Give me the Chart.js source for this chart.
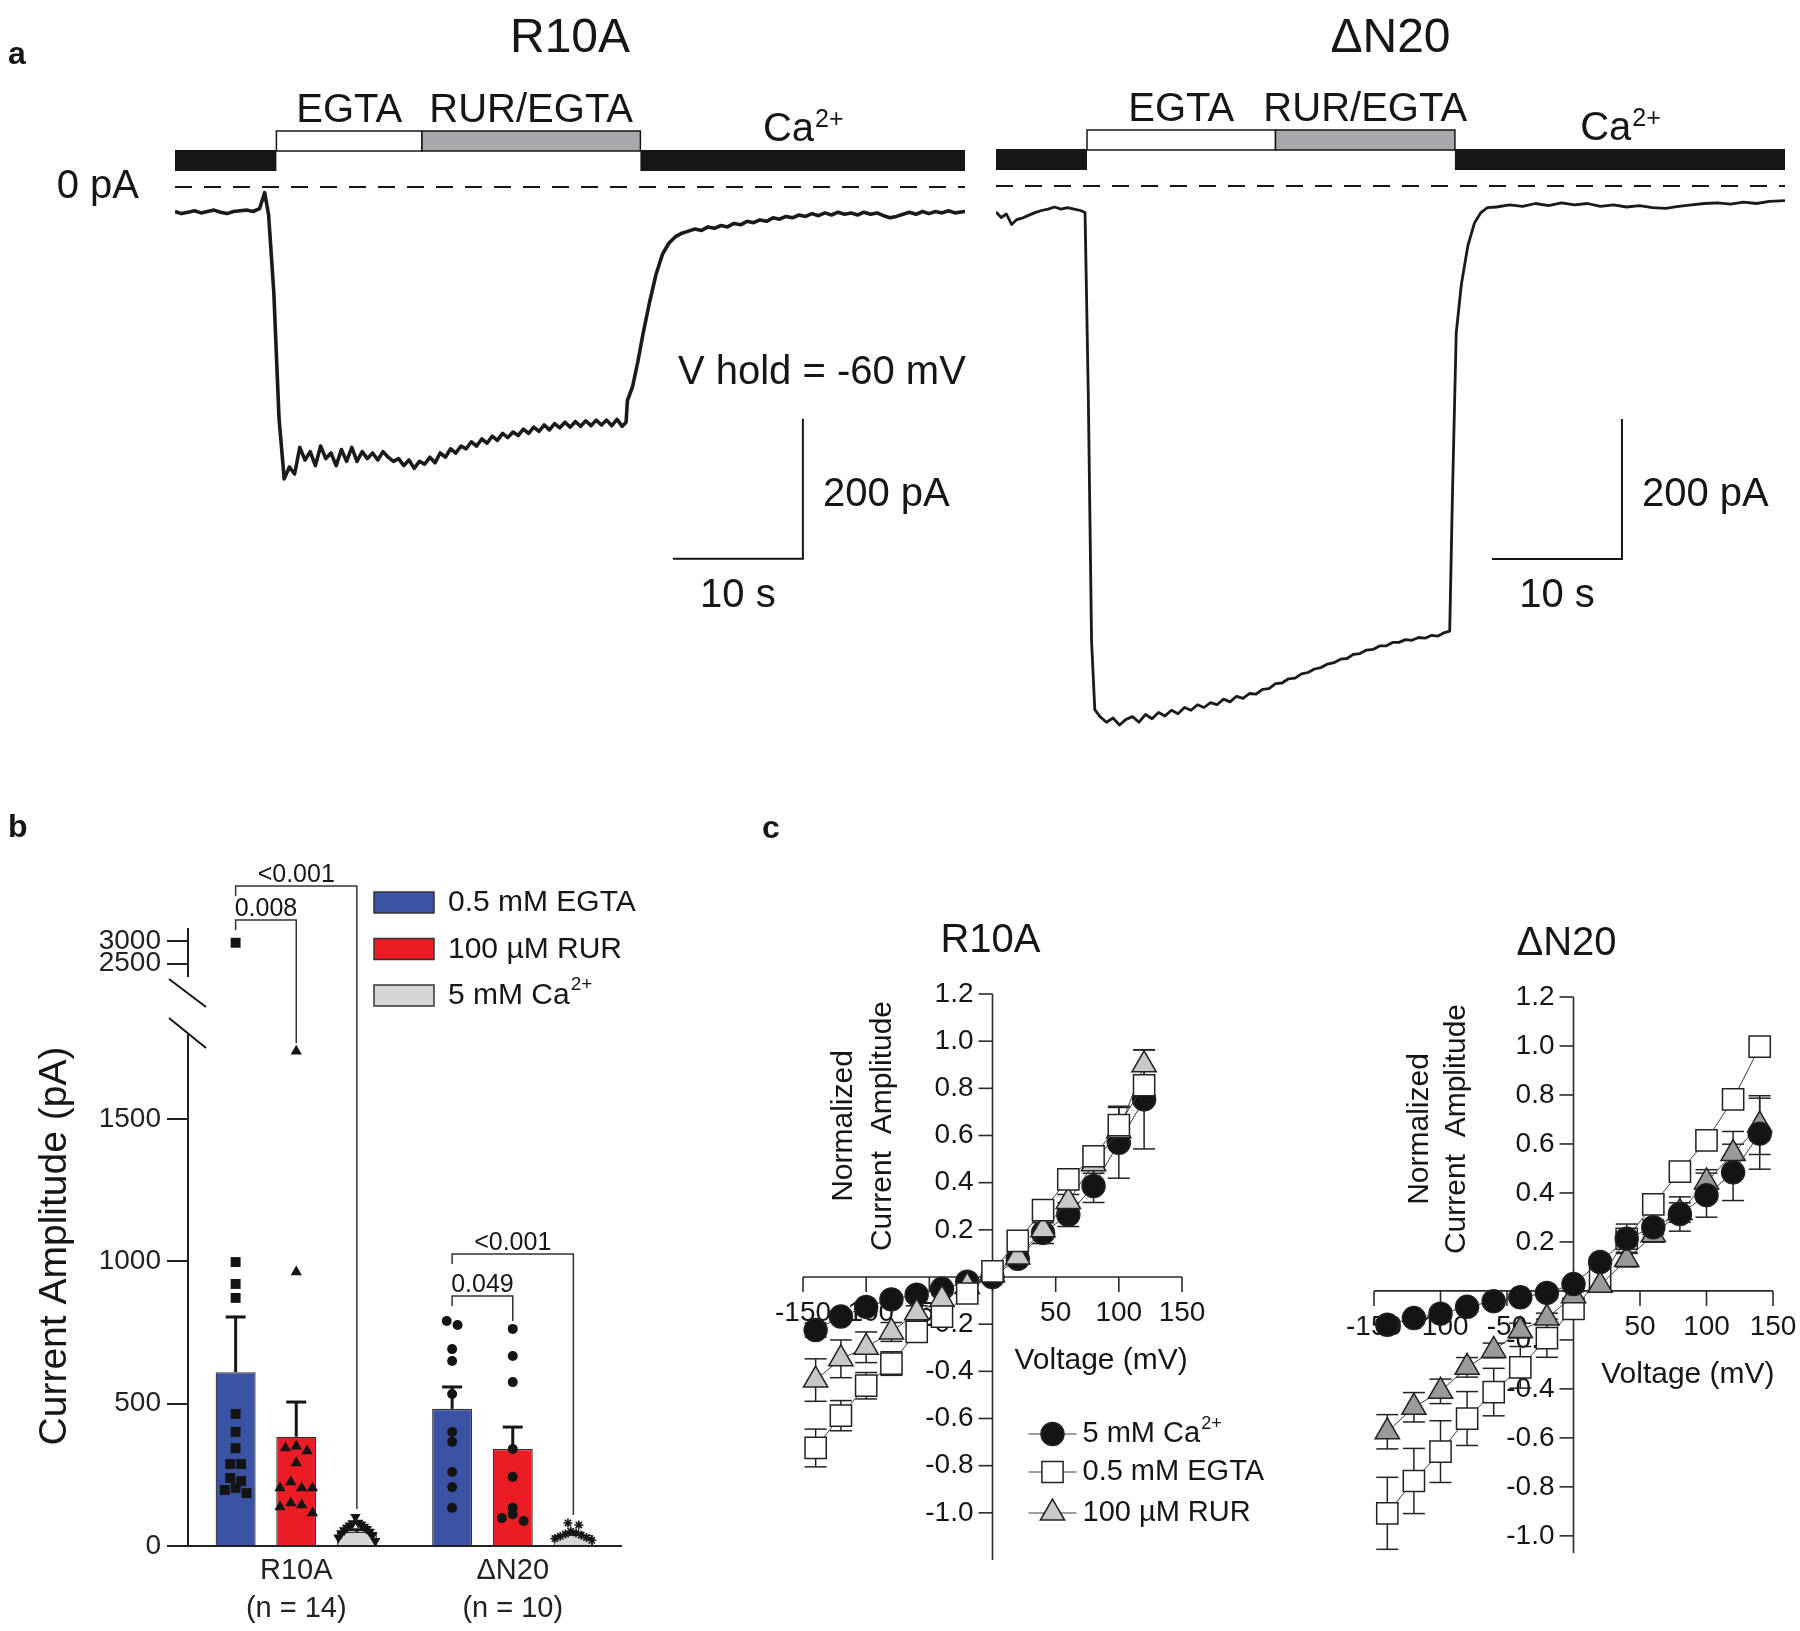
<!DOCTYPE html>
<html>
<head>
<meta charset="utf-8">
<title>R10A / ΔN20 currents</title>
<script src="https://cdn.jsdelivr.net/npm/chart.js@4.4.1/dist/chart.umd.min.js"></script>
<style>
  html, body { margin: 0; background: #fff; }
  #fig { position: relative; width: 1800px; height: 1631px; background: #fff; overflow: hidden; }
  .panel { position: absolute; }
</style>
</head>
<body>
<div id="fig">
  <div class="panel" style="left:0;top:0;width:980px;height:690px"><canvas id="traceR10A"></canvas></div>
  <div class="panel" style="left:980px;top:0;width:820px;height:760px"><canvas id="traceN20"></canvas></div>
  <div class="panel" style="left:0;top:780px;width:660px;height:851px"><canvas id="ampLow"></canvas></div>
  <div class="panel" style="left:0;top:900px;width:660px;height:100px"><canvas id="ampHigh"></canvas></div>
  <div class="panel" style="left:760px;top:790px;width:560px;height:841px"><canvas id="ivR10A"></canvas></div>
  <div class="panel" style="left:1320px;top:790px;width:480px;height:841px"><canvas id="ivN20"></canvas></div>
</div>
<script>
// ---- panel a: whole-cell current traces (time in s, current in pA) ----
const r10aTime = [
  0, 0.5, 1, 1.5, 2, 2.5, 3, 3.5, 4, 4.5, 5, 5.5, 6, 6.5,
  6.9, 7.2, 7.6, 8,
  8.4, 8.8, 9.2, 9.6, 10, 10.4, 10.8, 11.2, 11.6, 12, 12.4, 12.8, 13.2, 13.6, 14, 14.4, 14.8, 15.2, 15.6, 16, 16.4, 16.8,
  17.2, 17.6, 18, 18.4, 18.8, 19.2, 19.6, 20, 20.4, 20.8, 21.2, 21.6, 22, 22.4, 22.8, 23.2, 23.6, 24, 24.4, 24.8, 25.2, 25.6,
  26, 26.4, 26.8, 27.2, 27.6, 28, 28.4, 28.8, 29.2, 29.6, 30, 30.4, 30.8, 31.2, 31.6, 32, 32.4, 32.8, 33.2, 33.6, 34, 34.4,
  34.7, 34.8, 35.2, 35.6, 36,
  36.5, 37, 37.5, 38, 38.5, 39, 39.5, 40, 40.5, 41, 41.5, 42, 42.5, 43, 43.5, 44, 44.5, 45, 45.5, 46, 46.5, 47, 47.5, 48,
  48.5, 49, 49.5, 50, 50.5, 51, 51.5, 52, 52.5, 53, 53.5, 54, 54.5, 55, 55.5, 56, 56.5, 57, 57.5, 58, 58.5, 59, 59.5, 60,
  60.77
];
const r10aCurrent = [
  -35, -38, -36, -34, -37, -35, -33, -36, -38, -35, -34, -33, -35, -31,
  -8, -40, -150, -330,
  -417, -400, -410, -372, -390, -378, -398, -370, -388, -380, -398, -375, -392, -372, -392, -378, -388, -380, -390, -378, -386, -392,
  -388, -398, -390, -402, -392, -396, -386, -394, -380, -386, -374, -380, -370, -374, -364, -370, -360, -366, -356, -362, -352, -358,
  -350, -355, -346, -352, -343, -349, -340, -347, -338, -344, -336, -343, -335, -342, -334, -341, -333, -340, -333, -341, -332, -342,
  -336, -305, -285, -250, -210,
  -165, -125, -96, -80, -71, -66, -63, -60, -62, -57, -59, -55, -57, -52, -54, -49, -51, -47, -49, -44, -46, -42, -44, -40,
  -42, -38, -41, -37, -40, -36, -39, -37, -40, -36, -39, -37, -41, -44, -42, -39, -36, -39, -35, -38, -35, -37, -34, -37,
  -35
];
const n20Time = [
  0, 0.4, 0.8, 1.2, 1.6, 2, 2.5, 3, 3.5, 4, 4.5, 5, 5.5, 6, 6.5, 6.85,
  7.1, 7.35, 7.6,
  8, 8.5, 9, 9.5, 10, 10.5, 11, 11.5, 12, 12.5, 13, 13.5, 14, 14.5, 15, 15.5, 16, 16.5, 17, 17.5,
  18, 18.5, 19, 19.5, 20, 20.5, 21, 21.5, 22, 22.5, 23, 23.5, 24, 24.5, 25, 25.5, 26, 26.5, 27, 27.5,
  28, 28.5, 29, 29.5, 30, 30.5, 31, 31.5, 32, 32.5, 33, 33.5, 34, 34.5,
  34.9, 35.1, 35.4, 35.8, 36.3, 36.8, 37.3, 37.8,
  38.5, 39.5, 40.5, 41.5, 42.5, 43.5, 44.5, 45.5, 46.5, 47.5, 48.5, 49.5, 50.5, 51.5, 52.5, 53.5, 54.5, 55.5, 56.5, 57.5, 58.5, 59.5,
  60.69
];
const n20Current = [
  -37, -45, -40, -55, -48, -46, -42, -38, -35, -33, -30, -33, -31, -33, -35, -38,
  -300, -650, -748,
  -758, -766, -760, -770, -762, -758, -766, -755, -761, -752, -757, -749, -754, -745, -749, -741, -745, -738, -741, -733,
  -737, -729, -732, -725, -726, -719, -718, -711, -710, -704, -703, -697, -695, -690, -688, -683, -681, -676, -675, -669,
  -668, -663, -662, -657, -657, -652, -652, -648, -649, -645, -646, -642, -643, -638,
  -636, -450, -210, -140, -85, -53, -38, -31,
  -30, -27, -29, -25, -28, -24, -27, -25, -29, -27, -30, -28, -31, -32, -29, -27, -25, -24, -26, -23, -25, -22,
  -21
];
const solutionOrder = ['Ca', 'EGTA', 'RUR', 'Ca'];
const r10aSolEdges = [0, 7.8, 19.0, 35.8, 60.77];
const n20SolEdges = [0, 7.0, 21.5, 35.3, 60.69];

// ---- panel b: current amplitudes (pA) ----
const groupNames = ['R10A', 'ΔN20'];
const groupN = [14, 10];
const meanEGTA = [611, 482];
const semEGTA = [194, 77];
const meanRUR = [384, 341];
const semRUR = [122, 77];
const meanCa = [49, 39];
const semCa = [8, 6];
const ptsR10A_EGTA = [2960, 998, 921, 872, 464, 401, 344, 288, 288, 239, 228, 204, 197, 186];
const ptsR10A_RUR = [1739, 963, 351, 344, 334, 292, 225, 204, 204, 204, 151, 144, 137, 116];
const ptsR10A_Ca = [102, 82, 80, 76, 72, 68, 64, 60, 55, 50, 45, 38, 30, 18];
const ptsN20_EGTA = [791, 777, 692, 650, 534, 401, 366, 260, 207, 134];
const ptsN20_RUR = [763, 668, 576, 341, 243, 134, 112, 98, 88];
const ptsN20_Ca = [81, 74, 52, 46, 42, 38, 34, 30, 26, 20];
const ampTicksLow = [0, 500, 1000, 1500];
const ampTicksHigh = [2500, 3000];
const sigText = ['<0.001', '0.008', '<0.001', '0.049'];
const sigGroup = [0, 0, 1, 1];
const sigVs = [2, 1, 2, 1];
const sigLevel = [2320, 2200, 1026, 879];

// ---- panel c: normalized I-V relations ----
const ivVoltR10A = [-140, -120, -100, -80, -60, -40, -20, 0, 20, 40, 60, 80, 100, 120];
const ivCaR10A = [-0.225, -0.168, -0.127, -0.095, -0.075, -0.05, -0.02, 0.0, 0.077, 0.187, 0.264, 0.386, 0.569, 0.753];
const ivCaErrR10A = [0.03, 0.02, 0.02, 0.02, 0.02, 0.01, 0.01, 0.01, 0.02, 0.045, 0.05, 0.07, 0.15, 0.21];
const ivEgtaR10A = [-0.725, -0.588, -0.461, -0.367, -0.233, -0.168, -0.07, 0.024, 0.153, 0.284, 0.414, 0.512, 0.644, 0.813];
const ivEgtaErrR10A = [0.08, 0.064, 0.056, 0.05, 0.03, 0.03, 0.02, 0.01, 0.02, 0.02, 0.03, 0.03, 0.08, 0.04];
const ivRurR10A = [-0.437, -0.347, -0.298, -0.233, -0.152, -0.095, -0.04, 0.01, 0.085, 0.2, 0.32, 0.48, 0.62, 0.9];
const ivRurErrR10A = [0.09, 0.08, 0.065, 0.04, 0.03, 0.02, 0.02, 0.01, 0.02, 0.03, 0.03, 0.04, 0.06, 0.063];

const ivVoltN20 = [-140, -120, -100, -80, -60, -40, -20, 0, 20, 40, 60, 80, 100, 120, 140];
const ivCaN20 = [-0.138, -0.111, -0.093, -0.065, -0.042, -0.026, -0.008, 0.028, 0.118, 0.213, 0.26, 0.314, 0.391, 0.484, 0.642];
const ivCaErrN20 = [0.02, 0.02, 0.02, 0.02, 0.01, 0.01, 0.01, 0.01, 0.02, 0.03, 0.03, 0.07, 0.09, 0.115, 0.145];
const ivEgtaN20 = [-0.908, -0.776, -0.656, -0.521, -0.413, -0.312, -0.193, -0.073, 0.051, 0.213, 0.353, 0.487, 0.615, 0.782, 0.997];
const ivEgtaErrN20 = [0.147, 0.133, 0.126, 0.11, 0.097, 0.085, 0.078, 0.03, 0.03, 0.06, 0.03, 0.03, 0.03, 0.03, 0.03];
const ivRurN20 = [-0.575, -0.475, -0.41, -0.312, -0.243, -0.162, -0.111, -0.02, 0.023, 0.128, 0.229, 0.32, 0.445, 0.561, 0.677];
const ivRurErrN20 = [0.07, 0.06, 0.05, 0.04, 0.03, 0.03, 0.02, 0.02, 0.02, 0.03, 0.03, 0.04, 0.05, 0.09, 0.12];
const ivXTicks = [-150, -100, -50, 0, 50, 100, 150];
const ivYTicks = [1.2, 1.0, 0.8, 0.6, 0.4, 0.2, -0.2, -0.4, -0.6, -0.8, -1.0];

const FONT = '"Liberation Sans", Arial, Helvetica, sans-serif';
const INK = '#161616';
const BLUE = '#3a53a4';
const RED = '#ec1c24';
const GREY = '#d6d6d6';

Chart.defaults.font.family = FONT;
Chart.defaults.color = INK;
Chart.defaults.animation = false;
Chart.defaults.events = [];
Chart.defaults.responsive = true;
Chart.defaults.maintainAspectRatio = false;
Chart.defaults.plugins.legend.display = false;
Chart.defaults.plugins.tooltip.enabled = false;

function drawSup(ctx, base, sup, x, y, size, align) {
    ctx.font = `${size}px ${FONT}`;
    const w1 = ctx.measureText(base).width;
    const small = Math.round(size * 0.62);
    ctx.font = `${small}px ${FONT}`;
    const w2 = ctx.measureText(sup).width;
    const left = align === 'center' ? x - (w1 + w2) / 2 : x;
    ctx.textAlign = 'left';
    ctx.font = `${size}px ${FONT}`;
    ctx.fillText(base, left, y);
    ctx.font = `${small}px ${FONT}`;
    ctx.fillText(sup, left + w1 + 1, y - size * 0.36);
}

function line(ctx, x1, y1, x2, y2) {
    ctx.beginPath();
    ctx.moveTo(x1, y1);
    ctx.lineTo(x2, y2);
    ctx.stroke();
}

// ---------- panel a ----------
function makeTracePlugin(cfg) {
    return {
        id: 'traceDecor',
        afterDraw(chart) {
            const { ctx } = chart;
            const x = chart.scales.x;
            const y = chart.scales.y;
            const y0 = y.getPixelForValue(0);
            const xStart = x.getPixelForValue(0);
            const xEnd = x.getPixelForValue(x.max);
            ctx.save();
            ctx.fillStyle = INK;
            ctx.strokeStyle = INK;
            ctx.textBaseline = 'alphabetic';

            if (cfg.letter) {
                ctx.font = `bold 32px ${FONT}`;
                ctx.textAlign = 'left';
                ctx.fillText(cfg.letter, 8, 64);
            }
            ctx.font = `48px ${FONT}`;
            ctx.textAlign = 'center';
            ctx.fillText(cfg.title, (xStart + xEnd) / 2, 52);

            solutionOrder.forEach((kind, i) => {
                const x1 = x.getPixelForValue(cfg.edges[i]);
                const x2 = x.getPixelForValue(cfg.edges[i + 1]);
                const mid = (x1 + x2) / 2;
                if (kind === 'Ca') {
                    ctx.fillStyle = INK;
                    ctx.fillRect(x1, y0 - 37, x2 - x1, 21);
                    if (i > 0) drawSup(ctx, 'Ca', '2+', mid, y0 - 46, 40, 'center');
                } else {
                    ctx.fillStyle = kind === 'EGTA' ? '#fff' : '#a7a9ac';
                    ctx.fillRect(x1, y0 - 56, x2 - x1, 20);
                    ctx.lineWidth = 1.5;
                    ctx.strokeRect(x1, y0 - 56, x2 - x1, 20);
                    ctx.fillStyle = INK;
                    ctx.font = `40px ${FONT}`;
                    ctx.textAlign = 'center';
                    ctx.fillText(kind === 'EGTA' ? 'EGTA' : 'RUR/EGTA', mid, y0 - 65);
                }
            });

            ctx.fillStyle = INK;
            ctx.lineWidth = 2;
            ctx.setLineDash([17, 12]);
            line(ctx, xStart, y0, xEnd, y0);
            ctx.setLineDash([]);

            if (cfg.zeroLabel) {
                ctx.font = `40px ${FONT}`;
                ctx.textAlign = 'right';
                ctx.textBaseline = 'middle';
                ctx.fillText('0 pA', xStart - 36, y0);
                ctx.textBaseline = 'alphabetic';
            }

            const cx = x.getPixelForValue(cfg.bar.t);
            const cy = y.getPixelForValue(cfg.bar.pA);
            const top = y.getPixelForValue(cfg.bar.pA + 200);
            const left = x.getPixelForValue(cfg.bar.t - 10);
            ctx.lineWidth = 2;
            ctx.beginPath();
            ctx.moveTo(cx, top);
            ctx.lineTo(cx, cy);
            ctx.lineTo(left, cy);
            ctx.stroke();
            ctx.font = `40px ${FONT}`;
            ctx.textAlign = 'left';
            ctx.textBaseline = 'middle';
            ctx.fillText('200 pA', cx + 20, (cy + top) / 2 + 6);
            ctx.textAlign = 'center';
            ctx.textBaseline = 'alphabetic';
            ctx.fillText('10 s', (cx + left) / 2, cy + 48);
            if (cfg.hold) {
                ctx.textAlign = 'left';
                ctx.fillText(cfg.hold, cx - 125, cy - 175);
            }
            ctx.restore();
        }
    };
}

function traceChart(id, time, current, tMax, yMin, padding, cfg) {
    return new Chart(document.getElementById(id), {
        type: 'line',
        data: {
            datasets: [{
                data: time.map((t, i) => ({ x: t, y: current[i] })),
                borderColor: '#1a1a1a',
                borderWidth: cfg.width,
                borderJoinStyle: 'round',
                pointRadius: 0,
                tension: 0,
            }],
        },
        options: {
            layout: { padding },
            scales: {
                x: { type: 'linear', display: false, min: 0, max: tMax },
                y: { type: 'linear', display: false, min: yMin, max: 20 },
            },
        },
        plugins: [makeTracePlugin(cfg)],
    });
}

traceChart('traceR10A', r10aTime, r10aCurrent, 60.77, -700,
    { left: 175, right: 15, top: 173, bottom: 13 },
    { letter: 'a', title: 'R10A', edges: r10aSolEdges, zeroLabel: true, bar: { t: 48.3, pA: -531 }, hold: 'V hold = -60 mV', width: 3.6 });
traceChart('traceN20', n20Time, n20Current, 60.69, -800,
    { left: 16, right: 15, top: 172, bottom: 14 },
    { title: 'ΔN20', edges: n20SolEdges, zeroLabel: false, bar: { t: 48.15, pA: -533 }, width: 2.8 });

// ---------- panel b ----------
const slotOffset = [-0.28, 0, 0.28];
const ampMeans = [meanEGTA, meanRUR, meanCa];
const ampSems = [semEGTA, semRUR, semCa];
const dotValues = [[ptsR10A_EGTA, ptsN20_EGTA], [ptsR10A_RUR, ptsN20_RUR], [ptsR10A_Ca, ptsN20_Ca]];
const dotStyle = [
    [{ s: 'rect', r: 7, rot: 0 }, { s: 'circle', r: 5, rot: 0 }],
    [{ s: 'triangle', r: 6.5, rot: 0 }, { s: 'circle', r: 5, rot: 0 }],
    [{ s: 'triangle', r: 6, rot: 180 }, { s: 'star', r: 4.5, rot: 0 }],
];

// spread points of similar value sideways, centre-out
function swarm(values, center) {
    const idx = values.map((v, i) => i).sort((a, b) => values[b] - values[a]);
    const out = new Array(values.length);
    let cluster = [];
    const flush = () => {
        const n = cluster.length;
        const step = n > 1 ? Math.min(0.05, 0.17 / (n - 1)) : 0;
        const slots = cluster.map((_, k) => k - (n - 1) / 2).sort((a, b) => Math.abs(a) - Math.abs(b) || a - b);
        cluster.forEach((i, k) => { out[i] = { x: center + slots[k] * step, y: values[i] }; });
        cluster = [];
    };
    idx.forEach((i) => {
        if (cluster.length && values[cluster[cluster.length - 1]] - values[i] >= 22) flush();
        cluster.push(i);
    });
    flush();
    return out;
}

function ampDatasets(main) {
    const colors = [BLUE, RED, GREY];
    const bars = ampMeans.map((m, c) => ({
        type: 'bar', xAxisID: 'xp', yAxisID: 'y',
        data: m.map((v, g) => ({ x: g + slotOffset[c], y: v })),
        backgroundColor: colors[c], borderColor: '#333', borderWidth: 1.3,
        grouped: false, maxBarThickness: 40, order: 2,
    }));
    const dots = [];
    dotValues.forEach((byGroup, c) => {
        byGroup.forEach((vals, g) => {
            const st = dotStyle[c][g];
            dots.push({
                type: 'scatter', xAxisID: 'xp', yAxisID: 'y',
                data: swarm(vals, g + slotOffset[c]),
                pointStyle: st.s, pointRadius: st.r, pointRotation: st.rot,
                pointBackgroundColor: '#141414', pointBorderColor: '#141414',
                pointBorderWidth: st.s === 'star' ? 1.6 : 0,
                clip: main ? false : 0, order: 0,
            });
        });
    });
    return bars.concat(dots);
}

function makeAmpPlugin(main) {
    return {
        id: 'ampDecor',
        afterDatasetsDraw(chart) {
            const { ctx } = chart;
            const a = chart.chartArea;
            const y = chart.scales.y;
            ctx.save();
            ctx.beginPath();
            ctx.rect(0, main ? 0 : a.top, chart.width, main ? chart.height : a.bottom - a.top);
            ctx.clip();
            ctx.strokeStyle = INK;
            ctx.lineWidth = 3;
            ampSems.forEach((sem, d) => {
                chart.getDatasetMeta(d).data.forEach((bar, j) => {
                    const top = y.getPixelForValue(ampMeans[d][j] + sem[j]);
                    line(ctx, bar.x, y.getPixelForValue(ampMeans[d][j]), bar.x, top);
                    line(ctx, bar.x - 10, top, bar.x + 10, top);
                });
            });
            ctx.restore();
            if (!main) return;

            ctx.save();
            // significance brackets
            ctx.lineWidth = 1.5;
            ctx.strokeStyle = '#333';
            ctx.fillStyle = INK;
            ctx.font = `25px ${FONT}`;
            ctx.textAlign = 'center';
            ctx.textBaseline = 'alphabetic';
            sigText.forEach((label, k) => {
                const g = sigGroup[k];
                const c = sigVs[k];
                const xa = chart.getDatasetMeta(0).data[g].x;
                const xb = chart.getDatasetMeta(c).data[g].x;
                const ly = y.getPixelForValue(sigLevel[k]);
                const peak = Math.max(...dotValues[c][g], ampMeans[c][g] + ampSems[c][g]);
                const yEnd = y.getPixelForValue(peak) - 8;
                ctx.beginPath();
                ctx.moveTo(xa, ly + 10);
                ctx.lineTo(xa, ly);
                ctx.lineTo(xb, ly);
                ctx.lineTo(xb, yEnd);
                ctx.stroke();
                ctx.fillText(label, (xa + xb) / 2, ly - 4);
            });

            // axis break marks
            ctx.strokeStyle = INK;
            ctx.lineWidth = 2;
            line(ctx, a.left - 19, a.top - 56, a.left + 18, a.top - 28);
            line(ctx, a.left - 19, a.top - 17, a.left + 18, a.top + 13);

            // legend
            const legendColors = [BLUE, RED, GREY];
            const legendText = ['0.5 mM EGTA', '100 µM RUR', '5 mM Ca'];
            legendColors.forEach((col, i) => {
                const top = 112 + i * 46.5;
                ctx.fillStyle = col;
                ctx.fillRect(374, top, 60, 21);
                ctx.strokeStyle = '#333';
                ctx.lineWidth = 1.5;
                ctx.strokeRect(374, top, 60, 21);
                ctx.fillStyle = INK;
                ctx.textBaseline = 'middle';
                if (i === 2) {
                    drawSup(ctx, legendText[i], '2+', 448, top + 11, 30, 'left');
                } else {
                    ctx.font = `30px ${FONT}`;
                    ctx.textAlign = 'left';
                    ctx.fillText(legendText[i], 448, top + 11);
                }
            });

            // y title and panel letter
            ctx.save();
            ctx.translate(a.left - 133, a.top + 211);
            ctx.rotate(-Math.PI / 2);
            ctx.font = `39px ${FONT}`;
            ctx.textAlign = 'center';
            ctx.textBaseline = 'middle';
            ctx.fillText('Current Amplitude (pA)', 0, 0);
            ctx.restore();
            ctx.font = `bold 32px ${FONT}`;
            ctx.textAlign = 'left';
            ctx.textBaseline = 'alphabetic';
            ctx.fillText('b', 8, 57);
            ctx.restore();
        }
    };
}

function ampChart(id, yMin, yMax, yTicks, padding, main) {
    return new Chart(document.getElementById(id), {
        type: 'bar',
        data: {
            labels: groupNames.map((g, i) => [g, `(n = ${groupN[i]})`]),
            datasets: ampDatasets(main),
        },
        options: {
            layout: { padding },
            scales: {
                x: {
                    type: 'category', display: main, offset: true,
                    grid: { display: false, drawTicks: false },
                    border: { display: true, color: '#222', width: 2 },
                    ticks: { font: { size: 29, lineHeight: 1.3 }, color: '#222', padding: 6, maxRotation: 0 },
                    afterFit: (s) => { if (main) s.height = 80; },
                },
                xp: { type: 'linear', display: false, offset: false, grid: { offset: false }, min: -0.5, max: 1.5 },
                y: {
                    type: 'linear', min: yMin, max: yMax,
                    afterBuildTicks: (s) => { s.ticks = yTicks.map(v => ({ value: v })); },
                    grid: { drawOnChartArea: false, tickLength: 21, color: '#222', lineWidth: 2 },
                    border: { color: '#222', width: 2 },
                    ticks: { font: { size: 28 }, color: '#222', padding: 6, autoSkip: false, callback: v => String(v) },
                    afterFit: (s) => { s.width = 110; },
                },
            },
        },
        plugins: [makeAmpPlugin(main)],
    });
}

ampChart('ampLow', 0, 1796, ampTicksLow, { left: 78, right: 39, top: 255, bottom: 5 }, true);
ampChart('ampHigh', 2235, 3265, ampTicksHigh, { left: 78, right: 39, top: 29, bottom: 24.4 }, false);

// ---------- panel c ----------
const ivLegend = [
    { text: '5 mM Ca', sup: '2+' },
    { text: '0.5 mM EGTA' },
    { text: '100 µM RUR' },
];

function makeIvPlugin(cfg) {
    return {
        id: 'ivDecor',
        beforeDatasetsDraw(chart) {
            const { ctx } = chart;
            const a = chart.chartArea;
            const x = chart.scales.x;
            const y = chart.scales.y;
            const ox = x.getPixelForValue(0);
            const oy = y.getPixelForValue(0);
            ctx.save();
            ctx.strokeStyle = '#2a2a2a';
            ctx.fillStyle = INK;
            ctx.lineWidth = 1.6;
            line(ctx, a.left, oy, a.right, oy);
            line(ctx, ox, a.top, ox, a.bottom);
            ctx.font = `28px ${FONT}`;
            ctx.textAlign = 'center';
            ctx.textBaseline = 'middle';
            ivXTicks.forEach((v) => {
                const px = x.getPixelForValue(v);
                line(ctx, px, oy, px, oy + 15);
                if (v !== 0) ctx.fillText(String(v), px, oy + 36);
            });
            ctx.textAlign = 'right';
            ivYTicks.forEach((v) => {
                const py = y.getPixelForValue(v);
                line(ctx, ox - 14, py, ox, py);
                ctx.fillText(v.toFixed(1), ox - 19, py);
            });
            // error bars
            ctx.lineWidth = 1.5;
            ctx.strokeStyle = '#222';
            cfg.errors.forEach((err, k) => {
                chart.data.datasets[k].data.forEach((p, i) => {
                    const px = x.getPixelForValue(p.x);
                    const lo = y.getPixelForValue(p.y - err[i]);
                    const hi = y.getPixelForValue(p.y + err[i]);
                    line(ctx, px, lo, px, hi);
                    line(ctx, px - 11, lo, px + 11, lo);
                    line(ctx, px - 11, hi, px + 11, hi);
                });
            });
            ctx.restore();
        },
        afterDraw(chart) {
            const { ctx } = chart;
            const a = chart.chartArea;
            const x = chart.scales.x;
            const y = chart.scales.y;
            const ox = x.getPixelForValue(0);
            const oy = y.getPixelForValue(0);
            ctx.save();
            ctx.fillStyle = INK;
            if (cfg.letter) {
                ctx.font = `bold 32px ${FONT}`;
                ctx.textAlign = 'left';
                ctx.textBaseline = 'alphabetic';
                ctx.fillText(cfg.letter, 2, 48);
            }
            ctx.font = `40px ${FONT}`;
            ctx.textAlign = 'center';
            ctx.textBaseline = 'alphabetic';
            ctx.fillText(cfg.title, ox + cfg.titleDx, a.top - 42);
            ctx.font = `30px ${FONT}`;
            ctx.textBaseline = 'middle';
            ctx.fillText('Voltage (mV)', x.getPixelForValue(86), oy + 84);
            ['Normalized', 'Current  Amplitude'].forEach((t, i) => {
                ctx.save();
                ctx.translate(ox + cfg.yTitleDx[i], a.top + 132);
                ctx.rotate(-Math.PI / 2);
                ctx.fillText(t, 0, 0);
                ctx.restore();
            });
            if (cfg.legend) {
                const rows = [157, 195, 236];
                chart.data.datasets.forEach((ds, k) => {
                    const ly = oy + rows[k];
                    ctx.strokeStyle = '#3a3a3a';
                    ctx.lineWidth = 1;
                    line(ctx, ox + 36, ly, ox + 84, ly);
                    ctx.fillStyle = ds.pointBackgroundColor;
                    ctx.strokeStyle = ds.pointBorderColor;
                    ctx.lineWidth = ds.pointBorderWidth;
                    Chart.helpers.drawPoint(ctx, { pointStyle: ds.pointStyle, radius: ds.pointRadius, rotation: 0, borderWidth: ds.pointBorderWidth }, ox + 60, ly);
                    ctx.fillStyle = INK;
                    ctx.textBaseline = 'middle';
                    if (ivLegend[k].sup) {
                        drawSup(ctx, ivLegend[k].text, ivLegend[k].sup, ox + 90, ly, 29, 'left');
                    } else {
                        ctx.font = `29px ${FONT}`;
                        ctx.textAlign = 'left';
                        ctx.fillText(ivLegend[k].text, ox + 90, ly);
                    }
                });
            }
            ctx.restore();
        }
    };
}

function ivChart(id, volt, series, errors, yMin, padding, cfg) {
    const looks = [
        { style: 'circle', r: 11.5, bg: '#141414' },
        { style: 'rect', r: 15, bg: '#ffffff' },
        { style: 'triangle', r: 14, bg: cfg.rurColor },
    ];
    return new Chart(document.getElementById(id), {
        type: 'line',
        data: {
            datasets: series.map((vals, k) => ({
                data: volt.map((v, i) => ({ x: v, y: vals[i] })),
                borderColor: '#3a3a3a',
                borderWidth: 1,
                tension: 0,
                pointStyle: looks[k].style,
                pointRadius: looks[k].r,
                pointBackgroundColor: looks[k].bg,
                pointBorderColor: '#222',
                pointBorderWidth: 1.5,
                order: cfg.order[k],
                clip: false,
            })),
        },
        options: {
            layout: { padding },
            scales: {
                x: { type: 'linear', display: false, min: -150, max: 150 },
                y: { type: 'linear', display: false, min: yMin, max: 1.2 },
            },
        },
        plugins: [makeIvPlugin(Object.assign({ errors }, cfg))],
    });
}

ivChart('ivR10A', ivVoltR10A, [ivCaR10A, ivEgtaR10A, ivRurR10A], [ivCaErrR10A, ivEgtaErrR10A, ivRurErrR10A], -1.2,
    { left: 43, right: 138, top: 204, bottom: 71 },
    { letter: 'c', title: 'R10A', titleDx: -2, yTitleDx: [-149, -110], legend: true, rurColor: '#c8c8c8', order: [2, 0, 1] });
ivChart('ivN20', ivVoltN20, [ivCaN20, ivEgtaN20, ivRurN20], [ivCaErrN20, ivEgtaErrN20, ivRurErrN20], -1.07,
    { left: 54, right: 27, top: 207, bottom: 78 },
    { title: 'ΔN20', titleDx: -7, yTitleDx: [-154, -117], legend: false, rurColor: '#9a9a9a', order: [0, 2, 1] });
</script>
</body>
</html>
